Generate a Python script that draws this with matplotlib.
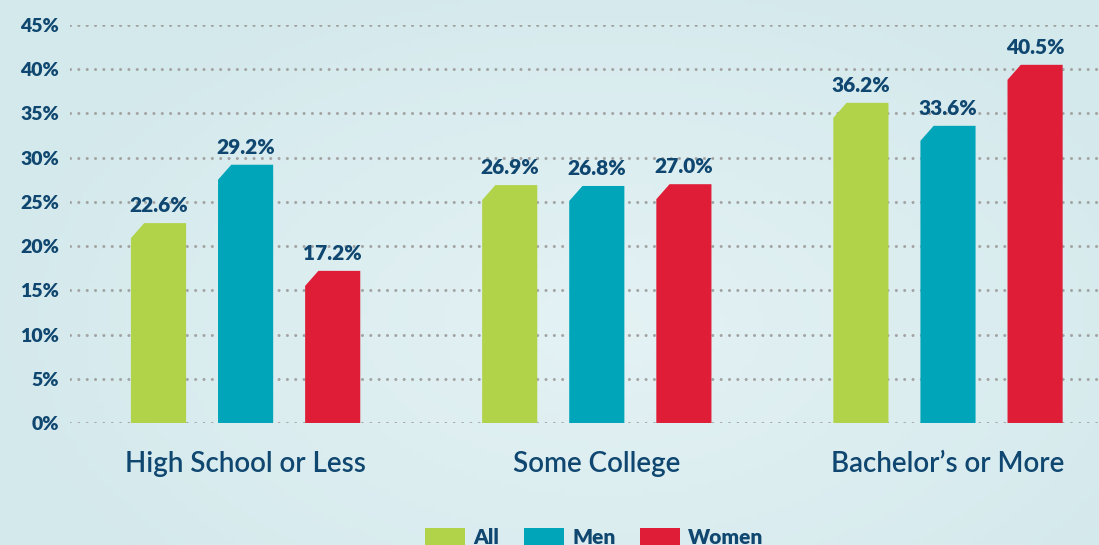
import numpy as np
import matplotlib.pyplot as plt
from matplotlib.patches import Polygon, Patch

categories = ["High School or Less", "Some College", "Bachelor\u2019s or More"]
series = ["All", "Men", "Women"]
all_vals = [22.6, 26.9, 36.2]
men_vals = [29.2, 26.8, 33.6]
women_vals = [17.2, 27.0, 40.5]
yticks = [0, 5, 10, 15, 20, 25, 30, 35, 40, 45]

colors = ["#b1d34a", "#00a5b9", "#e01d37"]
navy = "#0f4770"
plt.rcParams['font.family'] = ['Lato', 'DejaVu Sans']

fig = plt.figure(figsize=(10.99, 5.45), dpi=100)

# background gradient
bg = fig.add_axes([0, 0, 1, 1], zorder=-10)
gx = np.linspace(0, 1, 200)
gy = np.linspace(0, 1, 100)
X, Y = np.meshgrid(gx, gy)
G = 1 - np.clip(np.hypot((X - 0.55) * 1.2, (Y - 0.6)), 0, 1)
bg.imshow(G, cmap=plt.matplotlib.colors.LinearSegmentedColormap.from_list("b", ["#d4e9ec", "#e4f2f4"]),
          aspect='auto', extent=[0, 1, 0, 1], vmin=0.3, vmax=1)
bg.axis('off')

ax = fig.add_axes([0.0637, 0.2239, 0.9363, 0.7302])
ax.patch.set_alpha(0)
ax.set_xlim(-0.5, 2.43)
ax.set_ylim(0, 45)

for y in yticks:
    ax.axhline(y, color="#a3a3a3", lw=2.2, ls=(0, (0.01, 2.72)), dash_capstyle='round', zorder=1)

width = 0.157
offsets = [-0.248, 0, 0.248]
cut_x = 0.24 * width
cut_y = 1.7
for vals, off, c in zip([all_vals, men_vals, women_vals], offsets, colors):
    for i, v in enumerate(vals):
        x0 = i + off - width / 2
        x1 = i + off + width / 2
        poly = Polygon([(x0, 0), (x0, v - cut_y), (x0 + cut_x, v), (x1, v), (x1, 0)],
                       closed=True, facecolor=c, edgecolor='none', zorder=2)
        ax.add_patch(poly)
        ax.text(i + off, v + 0.9, f"{v:.1f}%", ha='center', va='bottom', fontsize=15,
                fontweight='heavy', color=navy, zorder=3)

ax.set_yticks(yticks)
ax.set_yticklabels([f"{t}%" for t in yticks], fontsize=14, fontweight='heavy', color=navy)
ax.set_xticks(range(len(categories)))
ax.set_xticklabels(categories, fontsize=20, color=navy, fontweight='semibold')
ax.tick_params(axis='y', length=0, pad=8)
ax.tick_params(axis='x', length=0, pad=20)
for s in ax.spines.values():
    s.set_visible(False)

handles = [Patch(facecolor=c, edgecolor='none') for c in colors]
leg = fig.legend(handles, series, loc='upper center', bbox_to_anchor=(0.541, 0.032), ncol=3,
                 frameon=False, fontsize=15, handlelength=1.9, handleheight=1.0,
                 handletextpad=0.4, columnspacing=1.2, borderaxespad=0, borderpad=0)
for t in leg.get_texts():
    t.set_fontweight('heavy')
    t.set_color(navy)

fig.savefig("out.png", dpi=100)
